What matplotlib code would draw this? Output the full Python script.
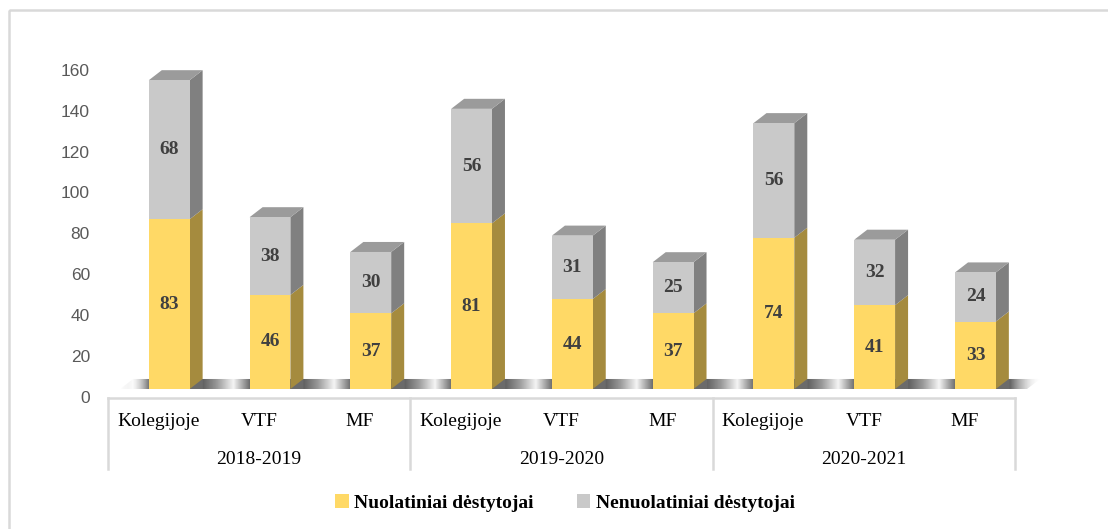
import numpy as np
import matplotlib
matplotlib.use("Agg")
import matplotlib.pyplot as plt
from matplotlib.patches import Polygon, Rectangle, Patch
from matplotlib.transforms import ScaledTranslation

years = ["2018-2019", "2019-2020", "2020-2021"]
units = ["Kolegijoje", "VTF", "MF"]
nuolatiniai = [83, 46, 37, 81, 44, 37, 74, 41, 33]
nenuolatiniai = [68, 38, 30, 56, 31, 25, 56, 32, 24]
series_names = ["Nuolatiniai dėstytojai", "Nenuolatiniai dėstytojai"]

YELLOW = ("#FFD966", "#A58B3E", "#C9AE55")
GRAY = ("#C9C9C9", "#808080", "#9B9B9B")

W, H = 1108, 529
fig = plt.figure(figsize=(W / 100, H / 100), dpi=100)

# outer chart border (only top/left visible in the original crop)
fig.patches.append(Rectangle((9 / W, 1 - 10 / H), 1.2, -1.2, transform=fig.transFigure,
                             fill=False, edgecolor="#D9D9D9", lw=1.8))

px_per_unit = 2.045
ax = fig.add_axes([108 / W, 140 / H, 907 / W, 329 / H])
ax.set_xlim(0, 9)
ax.set_ylim(0, 329 / px_per_unit)
for s in ax.spines.values():
    s.set_visible(False)
ax.set_xticks([])
ax.set_yticks(range(0, 161, 20))
ax.tick_params(axis="y", length=0, pad=13, labelsize=12.5, labelcolor="#595959")
for lbl in ax.get_yticklabels():
    lbl.set_fontfamily("Liberation Sans")
    lbl.set_transform(lbl.get_transform() + ScaledTranslation(0, -8 / 100, fig.dpi_scale_trans))

bw = 0.405      # front face width (slot units)
dx = 0.129      # depth offset x
dy = 4.9        # depth offset y (value units)

# floor strip: shadow right after each bar, light streak, darker again before next bar
x_start, x_end = 0.12, 9.12 + dx
xs = np.linspace(x_start, x_end, 1200)
gap = np.mod(xs - (0.405 + bw + dx), 1.0) / (1.0 - bw - dx)
shade = np.interp(gap, [0, 0.3, 0.65, 1.0], [0.38, 0.6, 0.96, 0.42])
img = np.tile(shade, (8, 1))
rgba = np.zeros(img.shape + (4,))
rgba[..., 0] = rgba[..., 1] = rgba[..., 2] = img
fade = np.clip(np.minimum((xs - x_start) / 0.3, (x_end - xs) / 0.3), 0, 1)
rgba[..., 3] = np.tile(fade, (8, 1))
floor = Polygon([(x_start, 0), (9.12, 0), (x_end, dy), (x_start + dx, dy)], closed=True,
                facecolor="none", edgecolor="none")
ax.add_patch(floor)
im = ax.imshow(rgba, extent=(x_start, x_end, 0, dy), aspect="auto", zorder=1,
               interpolation="bilinear")
ax.set_xlim(0, 9)
ax.set_ylim(0, 329 / px_per_unit)
im.set_clip_box(fig.bbox)
im.set_clip_path(floor)


def box(x0, y0, y1, cols, top=False):
    front, side, topc = cols
    ax.add_patch(Polygon([(x0 + bw, y0), (x0 + bw + dx, y0 + dy), (x0 + bw + dx, y1 + dy), (x0 + bw, y1)],
                         closed=True, facecolor=side, edgecolor="none", zorder=3))
    if top:
        ax.add_patch(Polygon([(x0, y1), (x0 + dx, y1 + dy), (x0 + bw + dx, y1 + dy), (x0 + bw, y1)],
                             closed=True, facecolor=topc, edgecolor="none", zorder=3))
    ax.add_patch(Rectangle((x0, y0), bw, y1 - y0, facecolor=front, edgecolor="none", zorder=4))


lab_kw = dict(ha="center", va="center", fontsize=14, fontweight="bold", color="#404040",
              fontfamily="Liberation Serif", zorder=5)
for i, (a, b) in enumerate(zip(nuolatiniai, nenuolatiniai)):
    x0 = i + 0.405
    box(x0, 0, a, YELLOW)
    box(x0, a, a + b, GRAY, top=True)
    ax.text(x0 + bw / 2, a / 2, str(a), **lab_kw)
    ax.text(x0 + bw / 2, a + b / 2, str(b), **lab_kw)

# category table below the plot
line_kw = dict(color="#D9D9D9", lw=1.8, clip_on=False)
y_top = -9 / px_per_unit
y_bot = -80 / px_per_unit
ax.plot([0, 9], [y_top, y_top], **line_kw)
for g in range(len(years) + 1):
    ax.plot([3 * g, 3 * g], [y_top, y_bot], **line_kw)
for i in range(9):
    ax.text(i + 0.5, -32 / px_per_unit, units[i % 3], ha="center", va="center", fontsize=14,
            fontfamily="Liberation Serif", color="black", clip_on=False)
for g, yr in enumerate(years):
    ax.text(3 * g + 1.5, -71 / px_per_unit, yr, ha="center", va="center", fontsize=14,
            fontfamily="Liberation Serif", color="black", clip_on=False)

handles = [Patch(facecolor=YELLOW[0], edgecolor="none"), Patch(facecolor=GRAY[0], edgecolor="none")]
leg = fig.legend(handles, series_names, loc="center", bbox_to_anchor=(565 / W, 1 - 503 / H),
                 ncol=2, frameon=False, handlelength=0.7, handleheight=0.7, handletextpad=0.3,
                 columnspacing=2.2, prop={"family": "Liberation Serif", "weight": "bold", "size": 14})

fig.savefig("out.png", dpi=100)
